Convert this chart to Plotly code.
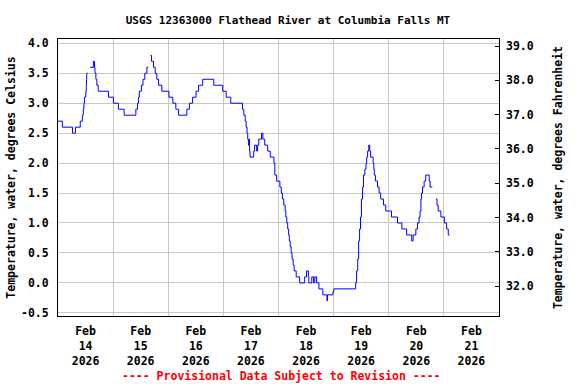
import datetime as dt
import plotly.graph_objects as go

# Water temperature (deg C) change points, hours since 2026-02-14 00:00 (None = gap)
hours = [0, 1.9, 6.3, 7.6, 9.7, 10.6, 11.0, 11.3, 11.5, 12.1, 12.3, 12.4, 12.5, 12.9, 13.3,
         14.0, 15.4, 15.9, 16.1, 16.5, 16.9, 17.5, 22.0, 24.1, 26.3, 28.8, 33.9, 34.6, 35.0,
         35.4, 36.3, 37.0, 37.8, 38.7, 39.3, 39.8,
         40.3, 40.7, 41.6, 42.3, 43.0, 43.8, 45.2, 48.3, 50.0, 51.3, 52.5, 56.1, 57.2, 58.6,
         60.1, 61.2, 63.0, 67.8, 71.7, 73.2, 75.2, 80.3, 80.9, 81.5, 81.9, 82.3, 82.6, 82.9,
         83.2, 83.4, 83.6, 85.2, 85.6, 86.5, 86.9, 87.4, 88.6, 89.2, 90.0, 91.3, 92.4, 94.0,
         94.4, 95.2, 96.6, 97.2, 97.7, 98.3, 98.9, 99.2, 99.6, 100.0, 100.4, 100.7, 101.1,
         101.5, 101.9, 102.4, 102.8, 103.7, 105.2, 107.4, 108.2, 109.0, 109.2, 110.5, 111.3,
         111.8, 112.6, 113.6, 115.3, 117.1, 117.3, 119.7, 120.1, 129.6, 130.0, 130.5, 130.9,
         131.3, 131.7, 132.1, 132.6, 133.0, 133.6, 134.1, 134.4, 134.8, 135.3, 135.7, 136.1,
         137.2, 137.5, 137.7, 138.2, 139.1, 139.8, 140.5, 141.7, 142.7, 145.2, 147.8, 149.7,
         151.8, 154.0, 154.6, 155.8, 156.5, 157.2, 157.6, 158.0, 158.3, 158.7, 159.4, 160.1,
         161.6, 162.0, 163.0, 163.6,
         164.5, 165.0, 165.5, 166.7, 168.2, 169.2, 169.9, 170.5]
temps_c = [2.7, 2.6, 2.5, 2.6, 2.7, 2.8, 2.9, 3.0, 3.1, 3.2, 3.3, 3.4, 3.5, 3.5, None,
           3.6, 3.7, 3.6, 3.5, 3.4, 3.3, 3.2, 3.1, 3.0, 2.9, 2.8, 2.9, 3.0, 3.1,
           3.2, 3.3, 3.4, 3.5, 3.6, 3.6, None,
           3.8, 3.7, 3.6, 3.5, 3.4, 3.3, 3.2, 3.1, 3.0, 2.9, 2.8, 2.9, 3.0, 3.1,
           3.2, 3.3, 3.4, 3.3, 3.2, 3.1, 3.0, 2.9, 2.8, 2.7, 2.6, 2.5, 2.4, 2.3,
           2.4, 2.2, 2.1, 2.2, 2.3, 2.2, 2.3, 2.4, 2.5, 2.4, 2.3, 2.2, 2.1, 2.0,
           1.8, 1.7, 1.6, 1.5, 1.4, 1.3, 1.2, 1.1, 1.0, 0.9, 0.8, 0.7, 0.6,
           0.5, 0.4, 0.3, 0.2, 0.1, 0.0, 0.1, 0.2, 0.1, 0.0, 0.1, 0.0,
           0.1, 0.0, -0.1, -0.2, -0.3, -0.2, -0.15, -0.1, 0.0, 0.2, 0.4, 0.7,
           0.9, 1.1, 1.4, 1.6, 1.8, 1.9, 2.0, 2.1, 2.2, 2.3, 2.2, 2.1,
           2.0, 1.9, 1.8, 1.7, 1.6, 1.5, 1.4, 1.3, 1.2, 1.1, 1.0, 0.9,
           0.8, 0.7, 0.8, 0.9, 1.0, 1.1, 1.2, 1.4, 1.5, 1.6, 1.7, 1.8,
           1.7, 1.6, 1.6, None,
           1.4, 1.3, 1.2, 1.1, 1.0, 0.9, 0.8, 0.8]

celsius_ticks = [-0.5, 0.0, 0.5, 1.0, 1.5, 2.0, 2.5, 3.0, 3.5, 4.0]
fahrenheit_ticks = [32, 33, 34, 35, 36, 37, 38, 39]

base = dt.datetime(2026, 2, 14)
times = [base + dt.timedelta(hours=h) for h in hours]

FONT = "DejaVu Sans Mono"
fig = go.Figure()
fig.add_trace(go.Scatter(x=times, y=temps_c, mode="lines", line_shape="hv",
                         line=dict(color="#0000FF", width=1), connectgaps=False,
                         showlegend=False, hoverinfo="skip"))
fig.add_trace(go.Scatter(x=[base], y=[None], yaxis="y2", mode="lines", showlegend=False))

fig.update_layout(
    width=576, height=384,
    margin=dict(l=58, r=77, t=39, b=68),
    paper_bgcolor="white", plot_bgcolor="white",
    font=dict(family=FONT, size=11, color="black"),
    title=dict(text="<b>USGS 12363000 Flathead River at Columbia Falls MT</b>",
               x=0.5, xanchor="center", y=1 - 20 / 384, yanchor="middle",
               font=dict(family=FONT, size=11, color="black")),
    xaxis=dict(type="date", range=[base, base + dt.timedelta(days=8)],
               dtick=86400000, tick0=base, ticklabelmode="period",
               tickformat="<b>%b</b><br><b>%d</b><br><b>%Y</b>",
               showgrid=True, gridcolor="#C8C8C8", gridwidth=1,
               showline=True, linecolor="black", linewidth=1, mirror=True,
               ticks="", ticklabelstandoff=4, zeroline=False, automargin=False,
               tickfont=dict(family=FONT, size=11.5)),
    yaxis=dict(range=[-0.553, 4.072], tickvals=celsius_ticks,
               ticktext=[f"<b>{v:.1f}</b>" for v in celsius_ticks],
               showgrid=True, gridcolor="#C8C8C8", gridwidth=1,
               showline=True, linecolor="black", linewidth=1, mirror=True,
               ticks="", ticklabelstandoff=6, zeroline=False, automargin=False,
               tickfont=dict(family=FONT, size=11.5),
               title=dict(text="<b>Temperature, water, degrees Celsius</b>", standoff=2,
                          font=dict(family=FONT, size=11.5))),
    yaxis2=dict(overlaying="y", side="right", range=[31.134, 39.204],
                tickvals=fahrenheit_ticks,
                ticktext=[f"<b>{v:.1f}</b>" for v in fahrenheit_ticks],
                showgrid=False, zeroline=False, ticks="inside", ticklen=4,
                tickcolor="black", ticklabelstandoff=6, automargin=False,
                tickfont=dict(family=FONT, size=11.5),
                title=dict(text="<b>Temperature, water, degrees Fahrenheit</b>", standoff=21,
                           font=dict(family=FONT, size=11.5))),
    annotations=[dict(text="<b>---- Provisional Data Subject to Revision ----</b>",
                      xref="paper", yref="paper", x=0.506, y=-0.218,
                      xanchor="center", yanchor="middle", showarrow=False,
                      font=dict(family=FONT, size=11.5, color="#FF0000"))],
)

fig.write_html("out.html", config={"displayModeBar": False},
               post_script="document.body.style.margin='0';document.body.style.overflow='hidden';")
